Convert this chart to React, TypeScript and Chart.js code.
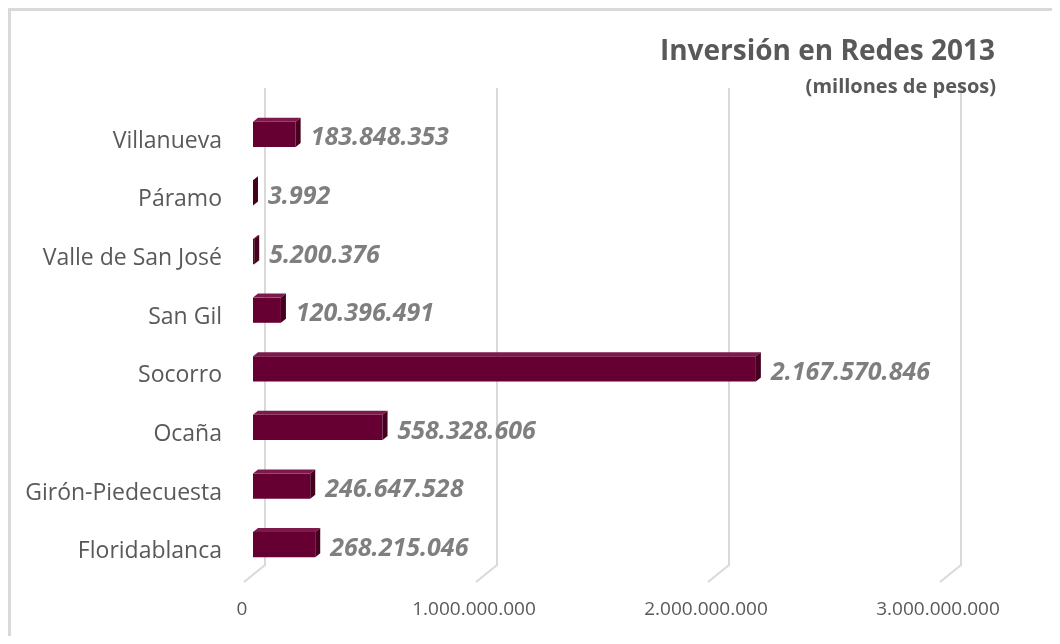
import React, { useEffect, useRef } from "react";
import { Chart, registerables } from "chart.js";

Chart.register(...registerables);

const categories = [
  "Villanueva",
  "Páramo",
  "Valle de San José",
  "San Gil",
  "Socorro",
  "Ocaña",
  "Girón-Piedecuesta",
  "Floridablanca",
];
const investment = [
  183848353, 3992, 5200376, 120396491, 2167570846, 558328606, 246647528, 268215046,
];
const xTicks = [0, 1000000000, 2000000000, 3000000000];
const titleText = "Inversión en Redes 2013";
const subtitleText = "(millones de pesos)";

const FONT = "'Open Sans', 'DejaVu Sans', sans-serif";
const GRID = "#d9d9d9";
const TEXT = "#595959";
const VALUE = "#7f7f7f";
const FRONT = "#660033";
const TOP = "#7e1a4b";
const SIDE = "#45001f";

const fmt = (n: number) =>
  String(Math.round(n)).replace(/\B(?=(\d{3})+(?!\d))/g, ".");

const DX = 5;
const DY = 4;

const decorPlugin = {
  id: "decor",
  beforeDraw(chart: any) {
    const { ctx, width } = chart;
    const ca = chart.chartArea;
    const xs = chart.scales.x;
    ctx.save();
    ctx.fillStyle = GRID;
    ctx.fillRect(0, 0, width, 3);
    ctx.fillRect(0, 0, 3, chart.height);
    ctx.strokeStyle = GRID;
    ctx.lineWidth = 2;
    xTicks.forEach((v) => {
      const px = xs.getPixelForValue(v);
      ctx.beginPath();
      ctx.moveTo(px + 12, ca.top - 17);
      ctx.lineTo(px + 12, ca.bottom - 9);
      ctx.lineTo(px - 9, ca.bottom + 8);
      ctx.stroke();
    });
    ctx.fillStyle = TEXT;
    ctx.textAlign = "right";
    ctx.textBaseline = "middle";
    ctx.font = `bold 28px ${FONT}`;
    ctx.fillText(titleText, 987, 44);
    ctx.font = `bold 20px ${FONT}`;
    ctx.fillText(subtitleText, 988, 79);
    ctx.restore();
  },
  afterDatasetsDraw(chart: any) {
    const { ctx } = chart;
    const meta = chart.getDatasetMeta(0);
    ctx.save();
    meta.data.forEach((bar: any, i: number) => {
      const { x, y, base, height } = bar.getProps(["x", "y", "base", "height"], true);
      const top = y - height / 2;
      const bottom = y + height / 2;
      const left = base;
      const right = x;
      ctx.fillStyle = TOP;
      ctx.beginPath();
      ctx.moveTo(left, top);
      ctx.lineTo(left + DX, top - DY);
      ctx.lineTo(right + DX, top - DY);
      ctx.lineTo(right, top);
      ctx.closePath();
      ctx.fill();
      ctx.fillStyle = SIDE;
      ctx.beginPath();
      ctx.moveTo(right, top);
      ctx.lineTo(right + DX, top - DY);
      ctx.lineTo(right + DX, bottom - DY);
      ctx.lineTo(right, bottom);
      ctx.closePath();
      ctx.fill();
      ctx.fillStyle = VALUE;
      ctx.font = `italic bold 25px ${FONT}`;
      ctx.textAlign = "left";
      ctx.textBaseline = "middle";
      ctx.fillText(fmt(investment[i]), right + 15, y + 4);
    });
    ctx.restore();
  },
};

export default function App() {
  const ref = useRef<HTMLCanvasElement | null>(null);
  useEffect(() => {
    if (!ref.current) return;
    const chart = new Chart(ref.current, {
      type: "bar",
      data: {
        labels: categories,
        datasets: [
          {
            data: investment,
            backgroundColor: FRONT,
            borderWidth: 0,
            categoryPercentage: 0.43,
            barPercentage: 1,
          },
        ],
      },
      options: {
        indexAxis: "y",
        animation: false,
        responsive: false,
        maintainAspectRatio: false,
        layout: { padding: { top: 97, right: 111, bottom: 0, left: 0 } },
        plugins: {
          legend: { display: false },
          tooltip: { enabled: false },
          title: { display: false },
        },
        scales: {
          x: {
            min: 0,
            max: 3000000000,
            afterBuildTicks: (s: any) => {
              s.ticks = xTicks.map((v) => ({ value: v }));
            },
            afterFit: (s: any) => {
              s.height = 62;
            },
            grid: { display: false, drawTicks: false },
            border: { display: false },
            ticks: {
              padding: 24,
              labelOffset: -11,
              color: TEXT,
              font: { family: FONT, size: 19 },
              maxRotation: 0,
              autoSkip: false,
              callback: (v: any) => fmt(Number(v)),
            },
          },
          y: {
            afterFit: (s: any) => {
              s.width = 245;
            },
            grid: { display: false, drawTicks: false },
            border: { display: false },
            ticks: {
              padding: 31,
              labelOffset: 7,
              color: TEXT,
              font: { family: FONT, size: 23 },
            },
          },
        },
      },
      plugins: [decorPlugin],
    });
    return () => chart.destroy();
  }, []);
  return (
    <div style={{ width: 1052, height: 628 }}>
      <canvas ref={ref} width={1052} height={628} style={{ display: "block" }} />
    </div>
  );
}
